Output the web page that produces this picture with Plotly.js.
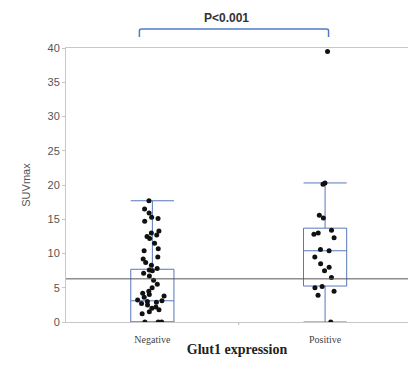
<!DOCTYPE html>
<html>
<head>
<meta charset="utf-8">
<script src="https://cdn.plot.ly/plotly-3.0.1.min.js"></script>
<style>html,body{margin:0;padding:0;background:#fff;}#chart{width:408px;height:370px;}</style>
</head>
<body>
<div id="chart"></div>
<script>
// Categories and values
const categories = ["Negative", "Positive"];
const negativeValues = [17.7, 16.5, 15.9, 15.3, 15.1, 14.7, 13.3, 13.0, 12.7, 12.5, 12.2, 11.5, 10.7, 10.4,
  9.5, 9.2, 8.7, 8.3, 7.8, 7.6, 7.5, 7.1, 6.7, 6.1, 5.5, 5.0, 4.5, 4.2, 4.0, 3.8, 3.6, 3.2, 3.1,
  3.0, 2.9, 2.7, 2.5, 2.2, 2.0, 1.8, 1.5, 1.2, 0, 0, 0];
const positiveValues = [39.5, 20.3, 20.1, 15.6, 15.2, 13.4, 13.0, 12.8, 12.3, 10.6, 10.4, 9.5, 8.5,
  8.0, 7.5, 6.5, 5.2, 5.0, 4.5, 3.9, 0];
// Box statistics [Negative, Positive]
const q1 = [0, 5.25];
const median = [3.1, 10.4];
const q3 = [7.7, 13.7];
const lowerFence = [0, 0];
const upperFence = [17.7, 20.3];
const cutoff = 6.3;
const pLabel = "P<0.001";
const yTitle = "SUVmax";
const xTitle = "Glut1 expression";

const boxColor = "#5878b8";
const traces = [
  {
    type: "box", x: categories, q1: q1, median: median, q3: q3,
    lowerfence: lowerFence, upperfence: upperFence,
    boxpoints: false, width: 0.25, whiskerwidth: 1,
    line: {color: boxColor, width: 1}, fillcolor: "rgba(255,255,255,0)",
    showlegend: false, hoverinfo: "skip"
  },
  {
    type: "box", x: negativeValues.map(() => categories[0]), y: negativeValues,
    boxpoints: "all", jitter: 0.7, pointpos: 0, width: 0.25,
    line: {width: 0, color: "rgba(0,0,0,0)"}, fillcolor: "rgba(0,0,0,0)",
    marker: {color: "#111", size: 5}, showlegend: false
  },
  {
    type: "box", x: positiveValues.map(() => categories[1]), y: positiveValues,
    boxpoints: "all", jitter: 0.7, pointpos: 0, width: 0.25,
    line: {width: 0, color: "rgba(0,0,0,0)"}, fillcolor: "rgba(0,0,0,0)",
    marker: {color: "#111", size: 5}, showlegend: false
  }
];

const layout = {
  width: 408, height: 370,
  margin: {l: 66, r: 0, t: 48, b: 48},
  paper_bgcolor: "#fff", plot_bgcolor: "#fff",
  boxmode: "overlay",
  showlegend: false,
  xaxis: {
    type: "category", range: [-0.5, 1.48],
    showline: true, linecolor: "#c8c8c8", linewidth: 1, mirror: true,
    showgrid: false, zeroline: false, ticks: "",
    ticklabelstandoff: 8,
    tickfont: {family: "Liberation Serif, serif", size: 10, color: "#444"},
    title: {text: xTitle, font: {family: "Liberation Serif, serif", size: 14, color: "#222", weight: "bold"}, standoff: 0}
  },
  yaxis: {
    range: [0, 40], dtick: 5, tick0: 0,
    showline: true, linecolor: "#c8c8c8", linewidth: 1,
    showgrid: false, zeroline: false,
    ticks: "outside", ticklen: 3, tickcolor: "#c8c8c8",
    tickfont: {family: "Liberation Sans, Arial, sans-serif", size: 11, color: "#555"},
    title: {text: yTitle, font: {family: "Liberation Sans, Arial, sans-serif", size: 11, color: "#555"}, standoff: 14}
  },
  shapes: [
    {type: "line", xref: "paper", x0: 0, x1: 1, yref: "y", y0: cutoff, y1: cutoff,
     line: {color: "#555", width: 1}},
    {type: "line", xref: "x", x0: 0.5, x1: 0.5, yref: "paper", y0: 0, y1: -0.012,
     line: {color: "#bbb", width: 1}},
    {type: "path", xref: "x", yref: "paper",
     path: "M -0.075 1.04 L -0.075 1.063 Q -0.075 1.069 -0.06 1.069 L 1.005 1.069 Q 1.02 1.069 1.02 1.063 L 1.02 1.04",
     line: {color: "#4f7cc4", width: 1.5}}
  ],
  annotations: [
    {text: "<b>" + pLabel + "</b>", xref: "paper", yref: "paper", x: 0.47, y: 1.075,
     xanchor: "center", yanchor: "bottom", showarrow: false,
     font: {family: "Liberation Sans, Arial, sans-serif", size: 12, color: "#333"}}
  ]
};

Plotly.newPlot("chart", traces, layout, {displayModeBar: false, staticPlot: true});
</script>
</body>
</html>
